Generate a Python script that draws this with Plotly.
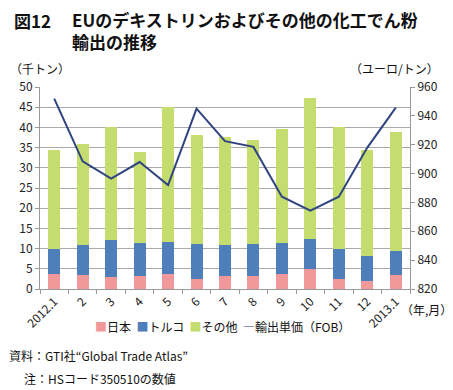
import plotly.graph_objects as go

months = ["2012.1", "2", "3", "4", "5", "6", "7", "8", "9", "10", "11", "12", "2013.1"]
japan_top = [3.6, 3.4, 3.0, 3.1, 3.6, 2.6, 3.2, 3.3, 3.8, 4.85, 2.6, 2.05, 3.5]
turkey_top = [9.8, 11.0, 12.1, 11.4, 11.6, 11.2, 11.0, 11.1, 11.3, 12.5, 9.95, 8.1, 9.4]
total = [34.5, 36.0, 40.0, 34.0, 45.0, 38.0, 37.7, 37.0, 39.6, 47.4, 40.0, 34.5, 38.9]
price = [952, 908.5, 896.5, 908, 892, 945, 922.5, 918.5, 884, 874.3, 884, 918, 945.7]
series_names = ["日本", "トルコ", "その他", "輸出単価（FOB）"]

japan = japan_top
turkey = [round(t - j, 2) for t, j in zip(turkey_top, japan_top)]
other = [round(a - t, 2) for a, t in zip(total, turkey_top)]

FONT = "Noto Sans CJK JP"
PINK = "#F0989A"
BLUE = "#4F7FBA"
GREEN = "#C5DC6E"
NAVY = "#2F4480"
colors = [PINK, BLUE, GREEN, NAVY]

fig = go.Figure()
fig.add_bar(x=months, y=japan, name=series_names[0], marker=dict(color=PINK, line=dict(width=0)))
fig.add_bar(x=months, y=turkey, name=series_names[1], marker=dict(color=BLUE, line=dict(width=0)))
fig.add_bar(x=months, y=other, name=series_names[2], marker=dict(color=GREEN, line=dict(width=0)))
fig.add_scatter(x=months, y=price, name=series_names[3], mode="lines",
                line=dict(color=NAVY, width=2), yaxis="y2")

OFF = 8  # page body margin
W, H = 453 - OFF, 390 - OFF
# plot area in page pixel coords
L, R, T, B = 40, 410, 87, 289

def px(x):
    return (x - L) / (R - L)

def py(y):
    return (B - y) / (B - T)

fig.update_layout(
    width=W, height=H,
    margin=dict(l=L - OFF, r=W - (R - OFF), t=T - OFF, b=H - (B - OFF), pad=0),
    paper_bgcolor="white", plot_bgcolor="white",
    barmode="stack", bargap=0.58,
    font=dict(family=FONT, size=12, color="#222"),
    showlegend=False,
    xaxis=dict(type="category", tickangle=-45, showline=True, linecolor="#999",
               ticks="outside", tickson="boundaries", ticklen=4, tickcolor="#999",
               tickfont=dict(size=12, color="#222"), showgrid=False),
    yaxis=dict(range=[0, 50], dtick=5, showline=True, linecolor="#999",
               ticks="outside", ticklen=4, tickcolor="#999",
               gridcolor="#AAAAAA", gridwidth=1,
               tickfont=dict(size=12, color="#222"), zeroline=False),
    yaxis2=dict(range=[820, 960], dtick=20, overlaying="y", side="right",
                showline=True, linecolor="#999", ticks="outside", ticklen=4,
                tickcolor="#999", showgrid=False, zeroline=False,
                tickfont=dict(size=12, color="#222")),
)

# legend as text with coloured key glyphs
keys = ["■", "■", "■", "<b>―</b>"]
legend_text = "&#160;&#160;".join(
    f"<span style='color:{c}'>{k}</span>{n}" for k, c, n in zip(keys, colors, series_names)
)

ann = [
    dict(text="<b>図12</b>", x=12, y=21, xanchor="left", yanchor="middle", size=17),
    dict(text="<b>EUのデキストリンおよびその他の化工でん粉</b><br><b>輸出の推移</b>",
         x=70, y=31, xanchor="left", yanchor="middle", size=17),
    dict(text="（千トン）", x=8, y=69, xanchor="left", yanchor="middle", size=12),
    dict(text="（ユーロ/トン）", x=441, y=69, xanchor="right", yanchor="middle", size=12),
    dict(text="（年,月）", x=399, y=309, xanchor="left", yanchor="middle", size=12),
    dict(text=legend_text, x=222, y=326, xanchor="center", yanchor="middle", size=12),
    dict(text="資料：GTI社“Global Trade Atlas”", x=7, y=355, xanchor="left",
         yanchor="middle", size=12),
    dict(text="注：HSコード350510の数値", x=22, y=378, xanchor="left",
         yanchor="middle", size=12),
]
for a in ann:
    fig.add_annotation(text=a["text"], x=px(a["x"]), y=py(a["y"]), xref="paper", yref="paper",
                       xanchor=a["xanchor"], yanchor=a["yanchor"], showarrow=False,
                       align="left",
                       font=dict(family=FONT, size=a["size"], color="#111"))

fig.write_html("out.html")
